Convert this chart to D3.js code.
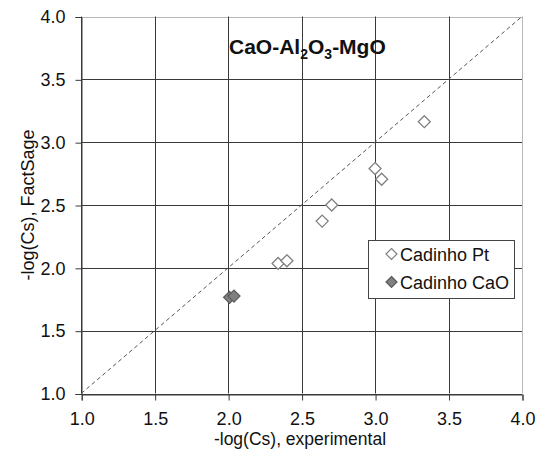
<!DOCTYPE html>
<html>
<head>
<meta charset="utf-8">
<script src="https://cdn.jsdelivr.net/npm/d3@7"></script>
<style>
html,body{margin:0;padding:0;background:#fff;}
svg{display:block;font-family:"Liberation Sans",Arial,sans-serif;}
</style>
</head>
<body>
<svg id="chart" width="539" height="461"></svg>
<script>
const tickValues = [1.0, 1.5, 2.0, 2.5, 3.0, 3.5, 4.0];
const ptX = [2.34, 2.40, 2.64, 2.705, 3.00, 3.045, 3.335];
const ptY = [2.035, 2.056, 2.372, 2.50, 2.79, 2.705, 3.163];
const caoX = [2.01, 2.04];
const caoY = [1.765, 1.775];
const seriesNames = ["Cadinho Pt", "Cadinho CaO"];
const diagonal = [1, 4];

const svg = d3.select("#chart");
const x = d3.scaleLinear().domain([1, 4]).range([81.2, 522]);
const y = d3.scaleLinear().domain([1, 4]).range([393.5, 16.5]);

// gridlines
svg.append("g").selectAll("line.h").data(tickValues).join("line")
  .attr("x1", x(1)).attr("x2", x(4))
  .attr("y1", d => Math.round(y(d)) + 0.5).attr("y2", d => Math.round(y(d)) + 0.5)
  .attr("stroke", d => d === 4 ? "#b8b8b8" : "#3a3a3a").attr("stroke-width", 1);
svg.append("g").selectAll("line.v").data(tickValues).join("line")
  .attr("y1", y(1)).attr("y2", y(4))
  .attr("x1", d => Math.round(x(d)) + 0.5).attr("x2", d => Math.round(x(d)) + 0.5)
  .attr("stroke", d => d === 4 ? "#b8b8b8" : "#3a3a3a").attr("stroke-width", 1);

// axes
const xAxis = d3.axisBottom(x).tickValues(tickValues).tickFormat(d3.format(".1f")).tickSizeOuter(0).tickSize(6).tickPadding(12);
const yAxis = d3.axisLeft(y).tickValues(tickValues).tickFormat(d3.format(".1f")).tickSizeOuter(0).tickSize(6).tickPadding(10);
const gx = svg.append("g").attr("transform", `translate(0.5,${Math.round(y(1)) + 0.5})`).call(xAxis);
const gy = svg.append("g").attr("transform", `translate(${Math.round(x(1)) + 0.5},0.5)`).call(yAxis);
[gx, gy].forEach(g => {
  g.select(".domain").attr("stroke", "#3a3a3a");
  g.selectAll(".tick line").attr("stroke", "#3a3a3a");
  g.selectAll(".tick text").attr("font-size", 18).attr("fill", "#111").attr("font-family", "Liberation Sans, Arial, sans-serif");
});

// diagonal dashed line
svg.append("line")
  .attr("x1", x(diagonal[0])).attr("y1", y(diagonal[0]))
  .attr("x2", x(diagonal[1])).attr("y2", y(diagonal[1]))
  .attr("stroke", "#555").attr("stroke-width", 1).attr("stroke-dasharray", "4,3");

// markers
const diamond = "M0,-6L6,0L0,6L-6,0Z";
const pts = ptX.map((v, i) => ({x: v, y: ptY[i]}));
const caos = caoX.map((v, i) => ({x: v, y: caoY[i]}));
svg.append("g").selectAll("path").data(pts).join("path")
  .attr("d", diamond).attr("transform", d => `translate(${x(d.x)},${y(d.y)})`)
  .attr("fill", "#fff").attr("stroke", "#808080").attr("stroke-width", 1.3);
svg.append("g").selectAll("path").data(caos).join("path")
  .attr("d", diamond).attr("transform", d => `translate(${x(d.x)},${y(d.y)})`)
  .attr("fill", "#808080").attr("stroke", "#5a5a5a").attr("stroke-width", 1.2);

// title
const title = svg.append("text").attr("x", 229).attr("y", 54).attr("font-size", 21).attr("font-weight", "bold").attr("fill", "#111");
title.append("tspan").text("CaO-Al");
title.append("tspan").text("2").attr("font-size", 14).attr("dy", 5);
title.append("tspan").text("O").attr("dy", -5);
title.append("tspan").text("3").attr("font-size", 14).attr("dy", 5);
title.append("tspan").text("-MgO").attr("dy", -5);

// axis titles
svg.append("text").attr("x", 300).attr("y", 445).attr("text-anchor", "middle").attr("font-size", 17.5).attr("fill", "#111")
  .text("-log(Cs), experimental");
svg.append("text").attr("transform", "translate(34,205) rotate(-90)").attr("text-anchor", "middle").attr("font-size", 18).attr("fill", "#111")
  .text("-log(Cs), FactSage");

// legend
const lg = svg.append("g");
lg.append("rect").attr("x", 368.5).attr("y", 240.5).attr("width", 146).attr("height", 58)
  .attr("fill", "#fff").attr("stroke", "#444").attr("stroke-width", 1);
const lgItems = [{name: seriesNames[0], fill: "#fff", stroke: "#808080"}, {name: seriesNames[1], fill: "#808080", stroke: "#5a5a5a"}];
lgItems.forEach((it, i) => {
  const cy = 254 + i * 28;
  lg.append("path").attr("d", "M0,-5.5L5.5,0L0,5.5L-5.5,0Z").attr("transform", `translate(391.5,${cy})`)
    .attr("fill", it.fill).attr("stroke", it.stroke).attr("stroke-width", 1.2);
  lg.append("text").attr("x", 400).attr("y", cy + 6.5).attr("font-size", 18).attr("fill", "#111").text(it.name);
});
</script>
</body>
</html>
